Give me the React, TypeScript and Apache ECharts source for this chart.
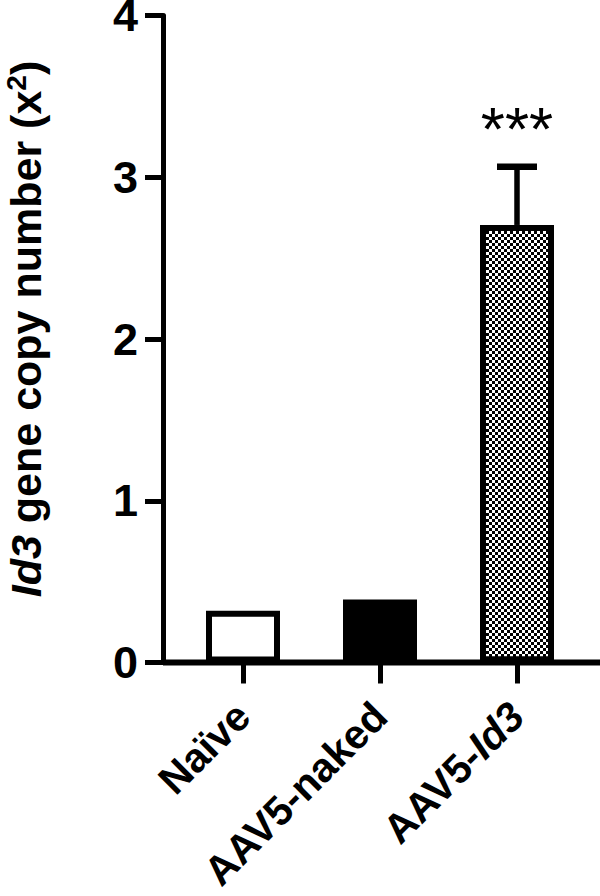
import React, { useEffect, useRef } from 'react';
import * as echarts from 'echarts';

const categories = ['Naïve', 'AAV5-naked', 'AAV5-Id3'];
const means = [0.32, 0.39, 2.705];
const sds = [0, 0, 0.36];
const sigLabels = ['', '', '***'];
const barFills = ['#ffffff', '#000000', '#ffffff'];
const patterned = [false, false, true];
const yMin = 0;
const yMax = 4;
const yInterval = 1;

const FONT = '"Liberation Sans", Arial, Helvetica, sans-serif';
const GRID_LEFT = 174.5;
const Y_OFFSET = 11.5;

export default function App() {
  const ref = useRef<HTMLDivElement>(null);
  useEffect(() => {
    document.body.style.margin = '0';
    const chart = echarts.init(ref.current!, null, { renderer: 'svg' });
    const decal = {
      symbol: 'rect',
      symbolSize: 1,
      color: '#000000',
      backgroundColor: '#ffffff',
      dashArrayX: [[3, 3], [0, 3, 3, 0]],
      dashArrayY: [3, 0],
      rotation: 0,
    };
    const labelRich = {
      n: { fontFamily: FONT, fontSize: 41, fontWeight: 'bold', color: '#000' },
      i: { fontFamily: FONT, fontSize: 41, fontWeight: 'bold', fontStyle: 'italic', color: '#000' },
    };
    const option: any = {
      animation: false,
      grid: {
        left: GRID_LEFT,
        right: 14.5,
        top: 15.5,
        bottom: 233.5,
        containLabel: false,
        outerBoundsMode: 'none',
      },
      xAxis: {
        type: 'category',
        data: categories,
        boundaryGap: true,
        axisLine: { show: false },
        axisTick: { show: true, alignWithLabel: true, interval: 0, length: 21, lineStyle: { color: '#000', width: 5 } },
        axisLabel: {
          rotate: 45,
          interval: 0,
          margin: 47,
          fontFamily: FONT,
          fontSize: 41,
          fontWeight: 'bold',
          color: '#000',
          formatter: (v: string) => (v === 'AAV5-Id3' ? '{n|AAV5-}{i|Id3}' : '{n|' + v + '}'),
          rich: labelRich,
        },
        splitLine: { show: false },
      },
      yAxis: {
        type: 'value',
        min: yMin,
        max: yMax,
        interval: yInterval,
        offset: Y_OFFSET,
        axisLine: { show: true, lineStyle: { color: '#000', width: 5 } },
        axisTick: { show: true, length: 18, lineStyle: { color: '#000', width: 5 } },
        axisLabel: { margin: 25, fontFamily: FONT, fontSize: 45, fontWeight: 'bold', color: '#000', padding: [0, 0, 10, 0] },
        splitLine: { show: false },
        name: '{i|Id3}{n| gene copy number (x}{s|2}{n|)}',
        nameLocation: 'middle',
        nameGap: 113,
        nameRotate: 90,
        nameTextStyle: {
          fontFamily: FONT,
          fontSize: 43,
          fontWeight: 'bold',
          color: '#000',
          padding: [0, 0, 0, 20],
          rich: {
            n: { fontFamily: FONT, fontSize: 43, fontWeight: 'bold', color: '#000', lineHeight: 48 },
            i: { fontFamily: FONT, fontSize: 43, fontWeight: 'bold', fontStyle: 'italic', color: '#000', lineHeight: 48 },
            s: { fontFamily: FONT, fontSize: 28, fontWeight: 'bold', color: '#000', lineHeight: 48, verticalAlign: 'top' },
          },
        },
      },
      series: [
        {
          type: 'bar',
          barWidth: 74,
          z: 2,
          data: means.map((v, i) => ({
            value: v,
            itemStyle: {
              color: barFills[i],
              borderColor: '#000',
              borderWidth: 6,
              ...(patterned[i] ? { decal } : {}),
            },
          })),
        },
        {
          type: 'custom',
          z: 4,
          data: means.map((m, i) => [i, m, sds[i]]),
          encode: { x: 0, y: 1 },
          renderItem: (params: any, api: any) => {
            const idx = api.value(0);
            const m = api.value(1);
            const sd = api.value(2);
            const base = api.coord([idx, m]);
            const top = api.coord([idx, m + sd]);
            const children: any[] = [];
            if (sd > 0) {
              children.push({
                type: 'line',
                shape: { x1: base[0], y1: base[1], x2: top[0], y2: top[1] },
                style: { stroke: '#000', lineWidth: 5.5 },
              });
              children.push({
                type: 'line',
                shape: { x1: top[0] - 20, y1: top[1], x2: top[0] + 20, y2: top[1] },
                style: { stroke: '#000', lineWidth: 6.5 },
              });
            }
            const sig = sigLabels[params.dataIndex];
            if (sig) {
              children.push({
                type: 'text',
                style: {
                  text: sig,
                  x: top[0],
                  y: top[1] - 38,
                  align: 'center',
                  verticalAlign: 'middle',
                  fontFamily: FONT,
                  fontSize: 62,
                  fontWeight: 'normal',
                  fill: '#000',
                },
              });
            }
            return { type: 'group', children };
          },
        },
      ],
    };
    chart.setOption(option);
    const y0 = chart.convertToPixel({ yAxisIndex: 0 }, yMin) as number;
    chart.setOption({
      graphic: [
        {
          type: 'line',
          z: 10,
          shape: { x1: GRID_LEFT - Y_OFFSET, y1: y0, x2: 600, y2: y0 },
          style: { stroke: '#000', lineWidth: 6 },
        },
      ],
    });
    return () => chart.dispose();
  }, []);
  return <div ref={ref} style={{ width: 600, height: 896, position: 'fixed', left: 0, top: 0, background: '#fff' }} />;
}
